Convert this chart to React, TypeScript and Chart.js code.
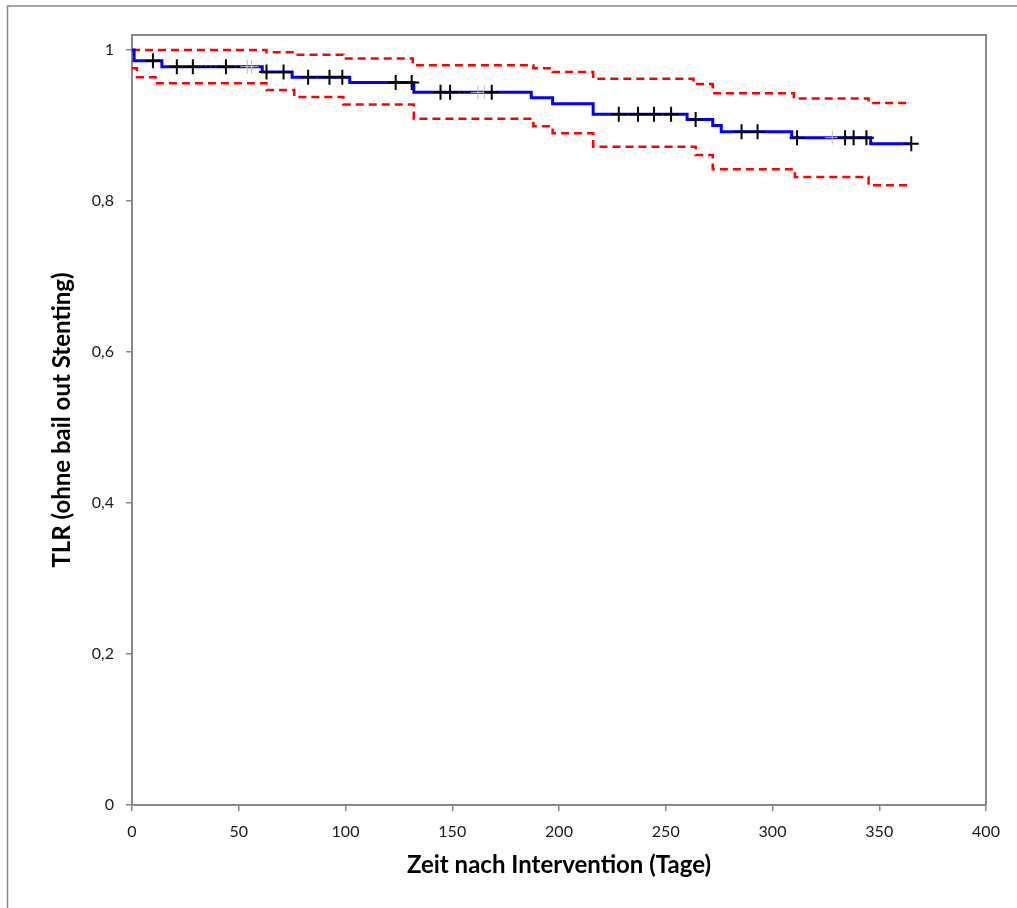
import React, { useEffect, useRef } from "react";
import { Chart, registerables } from "chart.js";

Chart.register(...registerables);

// Kaplan-Meier estimate (time in days, survival free of TLR)
const kmTimes = [0, 1, 14, 61, 75, 102, 132, 187, 197, 216, 260, 272, 276, 309, 346, 365];
const kmSurvival = [1, 0.986, 0.978, 0.971, 0.964, 0.957, 0.944, 0.937, 0.929, 0.915, 0.908, 0.9, 0.892, 0.884, 0.876, 0.876];

// Upper 95% confidence limit
const upperTimes = [0, 63, 76, 99, 131.5, 188, 197, 216, 263, 272, 310, 345, 365];
const upperValues = [1.0, 0.997, 0.994, 0.989, 0.98, 0.976, 0.971, 0.962, 0.955, 0.943, 0.936, 0.93, 0.93];

// Lower 95% confidence limit
const lowerTimes = [0, 2.3, 11, 63, 76, 99, 132, 188, 197, 216, 264, 272, 310.5, 345, 365];
const lowerValues = [0.976, 0.964, 0.956, 0.947, 0.938, 0.928, 0.909, 0.899, 0.89, 0.872, 0.861, 0.842, 0.832, 0.821, 0.821];

// Censored observations
const censorTimes = [9.8, 21, 28.5, 44, 63, 71, 82.5, 92.5, 98.5, 123.5, 131, 144.5, 149, 168.5, 228, 237, 244.5, 252.5, 264, 285.5, 293, 311.5, 334, 338, 344, 365];
const faintCensorTimes = [54, 56, 162, 165, 328];

// Axis ticks
const xTicks = [0, 50, 100, 150, 200, 250, 300, 350, 400];
const yTicks = [0, 0.2, 0.4, 0.6, 0.8, 1];

const xTitle = "Zeit nach Intervention (Tage)";
const yTitle = "TLR (ohne bail out Stenting)";

function kmAt(t: number): number {
  let v = kmSurvival[0];
  for (let i = 0; i < kmTimes.length; i++) {
    if (kmTimes[i] <= t) v = kmSurvival[i];
  }
  return v;
}

const FONT = "Lato, 'Open Sans', 'DejaVu Sans', sans-serif";

export default function App() {
  const ref = useRef<HTMLCanvasElement | null>(null);

  useEffect(() => {
    if (!ref.current) return;

    const framePlugin = {
      id: "frames",
      beforeDraw(chart: any) {
        const ctx = chart.ctx;
        ctx.save();
        ctx.fillStyle = "#ffffff";
        ctx.fillRect(0, 0, chart.width, chart.height);
        ctx.strokeStyle = "#888888";
        ctx.lineWidth = 1.5;
        ctx.beginPath();
        ctx.moveTo(7.5, chart.height + 5);
        ctx.lineTo(7.5, 6);
        ctx.lineTo(chart.width + 5, 6);
        ctx.stroke();
        ctx.restore();
      },
      beforeDatasetsDraw(chart: any) {
        const { left, right, top, bottom } = chart.chartArea;
        const ctx = chart.ctx;
        ctx.save();
        ctx.strokeStyle = "#888888";
        ctx.lineWidth = 2;
        ctx.beginPath();
        ctx.moveTo(left, top);
        ctx.lineTo(right, top);
        ctx.lineTo(right, bottom);
        ctx.stroke();
        ctx.restore();
      },
    };

    const allCensor = [...censorTimes, ...faintCensorTimes].sort((a, b) => a - b);
    const overlayPts = allCensor.map((t) => ({ x: t, y: kmAt(t) }));

    const chart = new Chart(ref.current, {
      type: "line",
      data: {
        datasets: [
          {
            label: "obere Grenze",
            data: upperTimes.map((t, i) => ({ x: t, y: upperValues[i] })),
            stepped: "before",
            borderColor: "#ff0000",
            borderWidth: 2.5,
            borderDash: [8, 5],
            pointRadius: 0,
            fill: false,
            order: 5,
          },
          {
            label: "untere Grenze",
            data: lowerTimes.map((t, i) => ({ x: t, y: lowerValues[i] })),
            stepped: "before",
            borderColor: "#ff0000",
            borderWidth: 2.5,
            borderDash: [8, 5],
            pointRadius: 0,
            fill: false,
            order: 5,
          },
          {
            label: "Kaplan-Meier",
            data: kmTimes.map((t, i) => ({ x: t, y: kmSurvival[i] })),
            stepped: "before",
            borderColor: "#0000ff",
            borderWidth: 3,
            pointRadius: 0,
            fill: false,
            order: 4,
          },
          {
            label: "zensiert (dicht)",
            data: overlayPts,
            borderColor: "#000000",
            borderWidth: 2,
            borderDash: [3, 2],
            pointRadius: 0,
            fill: false,
            order: 3,
            segment: {
              borderColor: (c: any) =>
                c.p0.parsed.y === c.p1.parsed.y && c.p1.parsed.x - c.p0.parsed.x <= 16
                  ? "#000000"
                  : "rgba(0,0,0,0)",
            },
          } as any,
          {
            label: "zensiert (blass)",
            data: faintCensorTimes.map((t) => ({ x: t, y: kmAt(t) })),
            showLine: false,
            pointStyle: "cross",
            pointRadius: 7,
            borderWidth: 1,
            borderColor: "#bbbbbb",
            order: 2,
          },
          {
            label: "zensiert",
            data: censorTimes.map((t) => ({ x: t, y: kmAt(t) })),
            showLine: false,
            pointStyle: "cross",
            pointRadius: 7.5,
            borderWidth: 2,
            borderColor: "#000000",
            order: 1,
          },
        ],
      },
      options: {
        responsive: false,
        animation: false,
        layout: { padding: { left: 0, top: 35, right: 31, bottom: 0 } },
        plugins: {
          legend: { display: false },
          tooltip: { enabled: false },
        },
        scales: {
          x: {
            type: "linear",
            min: 0,
            max: 400,
            afterBuildTicks: (scale: any) => {
              scale.ticks = xTicks.map((v) => ({ value: v }));
            },
            afterFit: (scale: any) => {
              scale.height = 103;
            },
            grid: {
              drawOnChartArea: false,
              drawTicks: true,
              tickLength: 6,
              color: "#888888",
              lineWidth: 1.5,
            },
            border: { display: true, color: "#888888", width: 2 },
            ticks: {
              color: "#1a1a1a",
              font: { family: FONT, size: 16 },
              padding: 11,
              maxRotation: 0,
              callback: (v: any) => String(v),
            },
            title: {
              display: true,
              text: xTitle,
              color: "#000000",
              font: { family: FONT, size: 24, weight: "bold" },
              padding: { top: 0, bottom: 28 },
            },
          },
          y: {
            type: "linear",
            min: 0,
            max: 1.02,
            afterBuildTicks: (scale: any) => {
              scale.ticks = yTicks.map((v) => ({ value: v }));
            },
            afterFit: (scale: any) => {
              scale.width = 132;
            },
            grid: {
              drawOnChartArea: false,
              drawTicks: true,
              tickLength: 6,
              color: "#888888",
              lineWidth: 1.5,
            },
            border: { display: true, color: "#888888", width: 2 },
            ticks: {
              color: "#1a1a1a",
              font: { family: FONT, size: 16 },
              padding: 12,
              callback: (v: any) => String(Math.round(Number(v) * 10) / 10).replace(".", ","),
            },
            title: {
              display: true,
              text: yTitle,
              color: "#000000",
              font: { family: FONT, size: 24, weight: "bold" },
              padding: { top: 48, bottom: 0 },
            },
          },
        },
      },
      plugins: [framePlugin],
    } as any);

    return () => chart.destroy();
  }, []);

  return (
    <div style={{ position: "fixed", left: 0, top: 0, width: 1017, height: 908, background: "#fff" }}>
      <canvas ref={ref} width={1017} height={908} style={{ display: "block" }} />
    </div>
  );
}
